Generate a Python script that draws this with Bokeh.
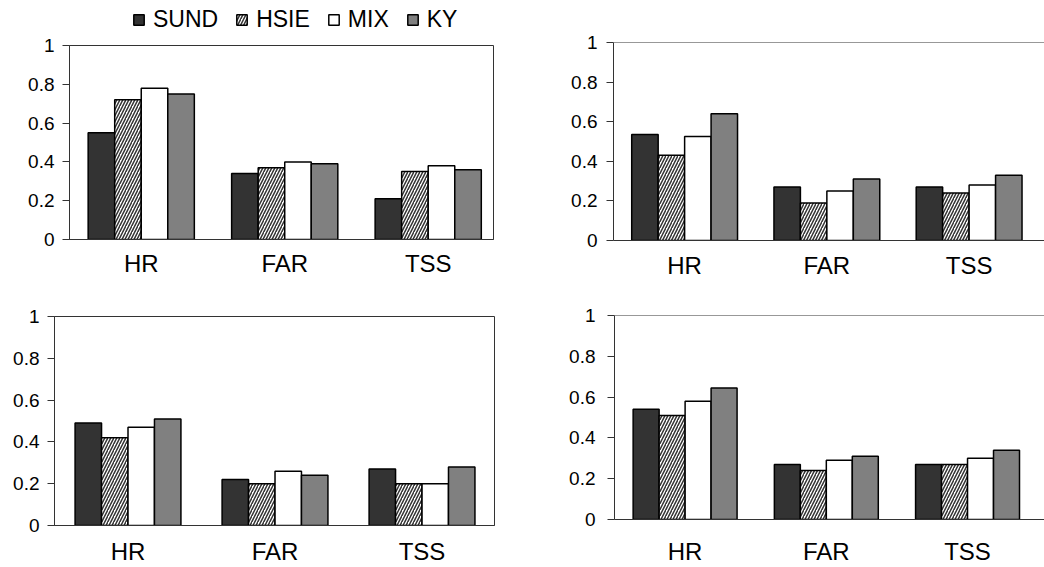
from bokeh.plotting import figure
from bokeh.layouts import column, row
from bokeh.models import Range1d, FixedTicker, Span, Legend, LegendItem
from bokeh.embed import file_html
from bokeh.resources import INLINE

# ---------------- data ----------------
categories = ["HR", "FAR", "TSS"]
series_names = ["SUND", "HSIE", "MIX", "KY"]
y_ticks = [0, 0.2, 0.4, 0.6, 0.8, 1]
y_tick_labels = ["0", "0.2", "0.4", "0.6", "0.8", "1"]

# top-left panel
sund_a = [0.55, 0.34, 0.21]
hsie_a = [0.72, 0.37, 0.35]
mix_a = [0.78, 0.40, 0.38]
ky_a = [0.75, 0.39, 0.36]

# top-right panel
sund_b = [0.535, 0.27, 0.27]
hsie_b = [0.43, 0.19, 0.24]
mix_b = [0.525, 0.25, 0.28]
ky_b = [0.64, 0.31, 0.33]

# bottom-left panel
sund_c = [0.49, 0.22, 0.27]
hsie_c = [0.42, 0.20, 0.20]
mix_c = [0.47, 0.26, 0.20]
ky_c = [0.51, 0.24, 0.28]

# bottom-right panel
sund_d = [0.54, 0.27, 0.27]
hsie_d = [0.51, 0.24, 0.27]
mix_d = [0.58, 0.29, 0.30]
ky_d = [0.645, 0.31, 0.34]

# ---------------- styles ----------------
FONT = "Liberation Sans"
AXIS_COLOR = "#333333"
STYLE = {
    "SUND": dict(fill_color="#333333"),
    "HSIE": dict(fill_color="white", hatch_pattern="/", hatch_color="#333333",
                 hatch_scale=6, hatch_weight=1.5),
    "MIX": dict(fill_color="white"),
    "KY": dict(fill_color="#808080"),
}
centers = [i + 0.5 for i in range(len(categories))]


def add_bars(p, values, bw, **extra):
    renderers = []
    for j, (name, vals) in enumerate(zip(series_names, values)):
        xs = [c + (j - 1.5) * bw for c in centers]
        renderers.append(p.vbar(x=xs, top=vals, bottom=0, width=bw,
                                line_color="black", line_width=1.5, **STYLE[name], **extra))
    return renderers


def make_panel(values, width, height, borders, x_end, bw, x_standoff, y_standoff, boxed):
    left, right, top, bottom = borders
    p = figure(width=width, height=height, output_backend="svg", toolbar_location=None,
               x_range=Range1d(0, x_end), y_range=Range1d(0, 1),
               min_border_left=left, min_border_right=right,
               min_border_top=top, min_border_bottom=bottom)
    p.xgrid.visible = False
    p.ygrid.visible = False
    p.background_fill_color = "white"
    p.border_fill_color = "white"

    add_bars(p, values, bw)

    # y axis
    ya = p.yaxis[0]
    ya.ticker = FixedTicker(ticks=y_ticks)
    ya.major_label_overrides = dict(zip(y_ticks, y_tick_labels))
    ya.major_tick_out = 7
    ya.major_tick_in = 0
    ya.minor_tick_out = 0
    ya.minor_tick_in = 0
    ya.major_label_standoff = y_standoff
    ya.major_label_text_font = FONT
    ya.major_label_text_font_size = "19px"
    ya.major_label_text_color = "black"
    ya.axis_line_color = AXIS_COLOR
    ya.major_tick_line_color = AXIS_COLOR

    # x axis
    xa = p.xaxis[0]
    xa.ticker = FixedTicker(ticks=centers)
    xa.major_label_overrides = dict(zip(centers, categories))
    xa.major_tick_out = 0
    xa.major_tick_in = 0
    xa.minor_tick_out = 0
    xa.minor_tick_in = 0
    xa.major_label_standoff = x_standoff
    xa.major_label_text_font = FONT
    xa.major_label_text_font_size = "24px"
    xa.major_label_text_color = "black"
    xa.axis_line_color = AXIS_COLOR

    if boxed:
        p.outline_line_color = AXIS_COLOR
        p.outline_line_width = 1
    else:
        p.outline_line_color = None
        p.add_layout(Span(location=1, dimension="width", line_color=AXIS_COLOR, line_width=1))
    return p


# legend strip above the top-left panel: its bars are muted (invisible),
# only the legend swatches are shown
leg = figure(width=540, height=34, output_backend="svg", toolbar_location=None,
             x_range=Range1d(0, 3), y_range=Range1d(0, 1),
             min_border_left=69, min_border_right=47, min_border_top=0, min_border_bottom=0,
             x_axis_location=None, y_axis_location=None)
leg.outline_line_color = None
leg.xgrid.visible = False
leg.ygrid.visible = False
leg_renderers = add_bars(leg, [sund_a, hsie_a, mix_a, ky_a], 0.185, muted_alpha=0)
for r in leg_renderers:
    r.muted = True
legend = Legend(items=[LegendItem(label=n, renderers=[r]) for n, r in zip(series_names, leg_renderers)],
                orientation="horizontal", location=(63, 1), click_policy="none",
                glyph_width=13, glyph_height=13, label_standoff=8, spacing=17,
                label_height=26, padding=0, margin=0, border_line_color=None,
                background_fill_alpha=0, label_text_font=FONT,
                label_text_font_size="23px", label_text_color="black")
leg.add_layout(legend)

p1 = make_panel([sund_a, hsie_a, mix_a, ky_a], 540, 248, (69, 47, 11, 43),
                2.955, 0.185, 10, 8, True)
p2 = make_panel([sund_b, hsie_b, mix_b, ky_b], 504, 282, (73, 0, 42, 42),
                3.03, 0.186, 11, 9, False)
p3 = make_panel([sund_c, hsie_c, mix_c, ky_c], 540, 285, (54, 46, 34, 42),
                2.993, 0.18, 12, 8, True)
p4 = make_panel([sund_d, hsie_d, mix_d, ky_d], 504, 285, (74, 0, 33, 48),
                3.045, 0.184, 18, 12, False)

layout = column(row(column(column(leg), column(p1)), column(p2)),
                row(column(p3), column(p4)))

open("out.html", "w").write(file_html(layout, INLINE))
